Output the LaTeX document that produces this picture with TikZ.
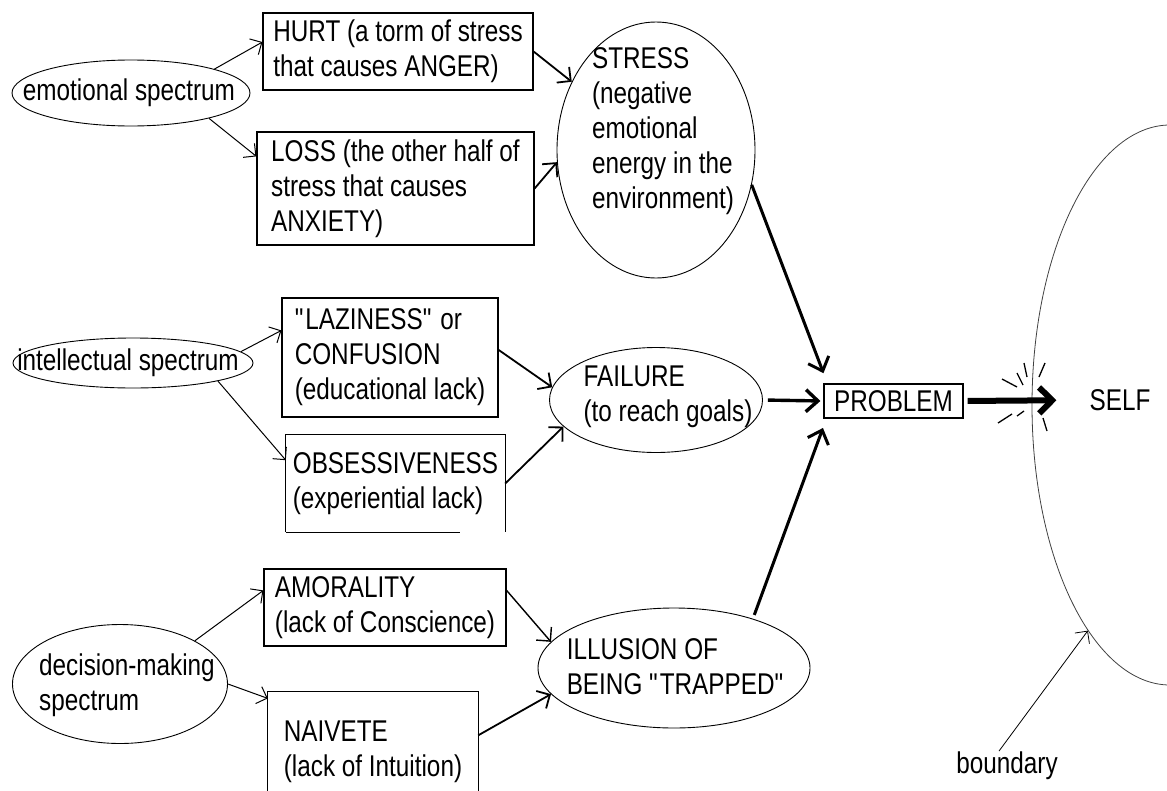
\documentclass[tikz,border=0pt]{standalone}
\usepackage{fontspec}
\setmainfont{Liberation Sans}[FakeStretch=0.81]
\usetikzlibrary{shapes.geometric,arrows.meta}

\begin{document}
\begin{tikzpicture}[x=1pt,y=-1pt,
    thin arrow/.style={line width=1pt,-{Straight Barb[length=9pt,width=18pt]}},
    mid arrow/.style={line width=1.8pt,-{Straight Barb[length=10pt,width=20pt]}},
    thick arrow/.style={line width=3.4pt,-{Straight Barb[length=12pt,width=22pt]}},
    huge arrow/.style={line width=6pt,-{Straight Barb[length=13pt,width=26pt]}}]

  \useasboundingbox (0,0) rectangle (1167,790);

  \begin{scope}[every node/.style={rectangle,draw,line width=1.2pt,align=left,inner sep=0pt,
      font=\fontsize{30}{35}\selectfont}]
    \node[minimum width=270pt,minimum height=77pt]  (hurt)    at (398,51.5)   {HURT (a torm of stress\\that causes ANGER)};
    \node[minimum width=277pt,minimum height=113pt] (loss)    at (395.5,188.5) {LOSS (the other half of\\stress that causes\\ANXIETY)};
    \node[minimum width=216pt,minimum height=119pt] (laz)     at (390,357.5)  {\textquotedbl LAZINESS\textquotedbl{} or\\CONFUSION\\(educational lack)};
    \node[minimum width=242pt,minimum height=77pt]  (amor)    at (385,607.5)  {AMORALITY\\(lack of Conscience)};
    \node[minimum width=139pt,minimum height=34pt]  (problem) at (893.5,401)  {PROBLEM};
  \end{scope}

  % boxes with a side left open
  \begin{scope}[every node/.style={rectangle,align=left,inner sep=0pt,
      font=\fontsize{30}{35}\selectfont}]
    \node[minimum width=219pt,minimum height=97pt]  (obs)   at (395.5,483.5) {OBSESSIVENESS\\(experiential lack)};
    \node[minimum width=210pt,minimum height=120pt] (naive) at (373,752)     {NAIVETE\\(lack of Intuition)};
  \end{scope}
  \draw[line width=1.2pt] (obs.south west) -- (obs.north west) -- (obs.north east) -- (obs.south east);
  \draw[line width=1.2pt] (obs.south west) -- ++(174,0);
  \draw[line width=1.2pt] (naive.south west) -- (naive.north west) -- (naive.north east) -- (naive.south east);

  \begin{scope}[every node/.style={ellipse,draw,line width=0.9pt,inner sep=0pt}]
    \node[minimum width=238pt,minimum height=66pt]  (emo)      at (131,93)   {};
    \node[minimum width=198pt,minimum height=256pt] (stress)   at (656,150)  {};
    \node[minimum width=240pt,minimum height=50pt]  (intel)    at (133,363)  {};
    \node[minimum width=213pt,minimum height=105pt] (fail)     at (656,400)  {};
    \node[minimum width=215pt,minimum height=119pt] (dec)      at (120,684)  {};
    \node[minimum width=272pt,minimum height=120pt] (ill)      at (674,668)  {};
    \node[minimum width=276pt,minimum height=560pt,draw=black!75,line width=0.8pt] (selfzone) at (1170,405) {};
  \end{scope}

  \begin{scope}[every node/.style={align=left,inner sep=0pt,font=\fontsize{30}{35}\selectfont}]
    \node (emotext)    at (129,93)  {emotional spectrum};
    \node (stresstext) at (663,131) {STRESS\\(negative\\emotional\\energy in the\\environment)};
    \node (inteltext)  at (128,363) {intellectual spectrum};
    \node (failtext)   at (668,397) {FAILURE\\(to reach goals)};
    \node (dectext)    at (127,685) {decision-making\\spectrum};
    \node (illtext)    at (676,667) {ILLUSION OF\\BEING \textquotedbl TRAPPED\textquotedbl};
    \node (self)       at (1120,400) {SELF};
    \node[anchor=base] (bound) at (1007,773) {boundary};
  \end{scope}

  \begin{scope}[every edge/.style={draw}]
    \path (emo.16)   edge[thin arrow] (hurt.176);
    \path (emo.-18)  edge[thin arrow] (loss.167);
    \path (hurt.east) edge[mid arrow] (stress.141);
    \path (loss.east) edge[mid arrow] (stress.187);
    \path (stress.-20) edge[thick arrow,line width=3pt,shorten >=11pt] ([xshift=4pt]problem.north west);
    \path (intel.6)  edge[thin arrow] (laz.166);
    \path (intel.-12) edge[thin arrow] (obs.168);
    \path (laz.4)    edge[mid arrow] (fail.173);
    \path (obs.east) edge[mid arrow] (fail.196);
    \path (fail.east) edge[thick arrow,shorten <=5pt,shorten >=3pt] (problem.west);
    \path (ill.32)   edge[thick arrow,line width=3pt,shorten <=4pt,shorten >=10pt] ([xshift=3pt]problem.south west);
    \path (problem.east) edge[huge arrow,shorten <=4pt,shorten >=33pt] (self.west);
    \path (dec.30)   edge[thin arrow] (amor.172);
    \path (dec.east) edge[thin arrow] (naive.153);
    \path (amor.8)   edge[mid arrow,line width=1.4pt] (ill.168);
    \path (naive.9)  edge[mid arrow] (ill.192);
    \path ([xshift=-8pt]bound.north) edge[thin arrow,line width=0.8pt] (selfzone.250);
  \end{scope}

  % impact strokes round the boundary
  \draw[line width=1.3pt] (1002,379) -- (1017,387) (1017,373) -- (1023,385)
    (1024,363) -- (1027,377) (1045,363) -- (1039,377)
    (998,423) -- (1012,414) (1017,416) -- (1024,411) (1043,418) -- (1047,431);

\end{tikzpicture}
\end{document}
